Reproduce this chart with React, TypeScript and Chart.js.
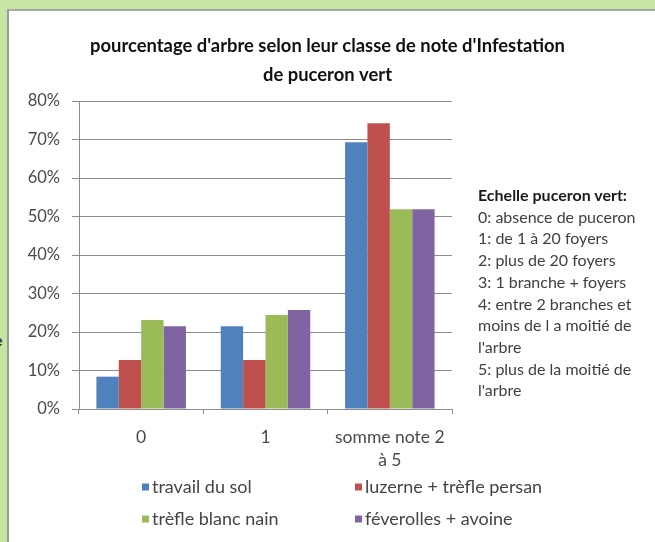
import React, { useEffect, useRef } from "react";
import { Chart, registerables } from "chart.js";

Chart.register(...registerables);

// ---- data ----
const categories: (string | string[])[] = ["0", "1", ["somme note 2", "à 5"]];
const seriesNames = [
  "travail du sol",
  "luzerne + trèfle persan",
  "trèfle blanc nain",
  "féverolles + avoine",
];
const travailDuSol = [8.4, 21.5, 69.3];
const luzerneTrefle = [12.7, 12.7, 74.2];
const trefleBlanc = [23.1, 24.4, 51.9];
const feverolles = [21.5, 25.7, 51.9];
const seriesColors = ["#4F81BD", "#C0504D", "#9BBB59", "#8064A2"];
const yMax = 80;
const yStep = 10;
const titleLines = [
  "pourcentage d'arbre selon leur classe de note d'Infestation",
  "de puceron vert",
];
const noteTitle = "Echelle puceron vert:";
const noteLines = [
  "0: absence de puceron",
  "1: de 1 à 20 foyers",
  "2: plus de 20 foyers",
  "3: 1 branche + foyers",
  "4: entre 2 branches et",
  "moins de l a moitié de",
  "l'arbre",
  "5: plus de la moitié de",
  "l'arbre",
];

const FONT = "Lato, 'Open Sans', sans-serif";
const GRID = "#8c8c8c";

const gridLegend = {
  id: "gridLegend",
  afterDraw(chart: any) {
    const ctx = chart.ctx;
    const { left } = chart.chartArea;
    const colX = [left + 63, left + 276];
    const rowY = [487, 519];
    ctx.save();
    ctx.font = `18px ${FONT}`;
    ctx.textBaseline = "middle";
    ctx.textAlign = "left";
    chart.data.datasets.forEach((ds: any, i: number) => {
      const x = colX[i % 2];
      const y = rowY[Math.floor(i / 2)];
      ctx.fillStyle = ds.backgroundColor;
      ctx.fillRect(x, y - 3.5, 7, 7);
      ctx.fillStyle = "#454545";
      ctx.fillText(ds.label, x + 10, y);
    });
    ctx.restore();
  },
};

export default function App() {
  const ref = useRef<HTMLCanvasElement | null>(null);

  useEffect(() => {
    if (!ref.current) return;
    const seriesData = [travailDuSol, luzerneTrefle, trefleBlanc, feverolles];
    const chart = new Chart(ref.current, {
      type: "bar",
      data: {
        labels: categories,
        datasets: seriesNames.map((name, i) => ({
          label: name,
          data: seriesData[i],
          backgroundColor: seriesColors[i],
          borderWidth: 0,
          categoryPercentage: 0.72,
          barPercentage: 1,
        })),
      },
      options: {
        responsive: false,
        animation: false,
        layout: { padding: 0 },
        plugins: {
          legend: { display: false },
          tooltip: { enabled: false },
          title: {
            display: true,
            text: titleLines,
            color: "#111111",
            font: { family: FONT, size: 18.4, weight: "bold", lineHeight: 29 / 18.4 },
            padding: { top: 31.5, bottom: 11.5 },
          },
        },
        scales: {
          x: {
            grid: {
              display: true,
              drawOnChartArea: false,
              drawTicks: true,
              tickLength: 5,
              color: GRID,
            },
            border: { display: true, color: GRID },
            ticks: {
              color: "#4a4a4a",
              font: { family: FONT, size: 17.5, lineHeight: 23 / 17.5 },
              padding: 11.5,
              maxRotation: 0,
              autoSkip: false,
            },
            afterFit: (s: any) => {
              s.height = 133;
            },
          },
          y: {
            min: 0,
            max: yMax,
            ticks: {
              stepSize: yStep,
              color: "#4a4a4a",
              font: { family: FONT, size: 16.5 },
              padding: 12,
              callback: (v: any) => `${v}%`,
            },
            grid: { color: GRID, tickLength: 7, drawTicks: true },
            border: { display: true, color: GRID },
            afterFit: (s: any) => {
              s.width = 79;
            },
          },
          y2: {
            position: "right",
            display: true,
            grid: { display: false, drawTicks: false },
            border: { display: false },
            ticks: { display: false },
            afterFit: (s: any) => {
              s.width = 203;
            },
          },
        },
      },
      plugins: [gridLegend],
    } as any);
    return () => chart.destroy();
  }, []);

  return (
    <div
      style={{
        position: "fixed",
        left: 0,
        top: 0,
        width: 655,
        height: 542,
        background: "#c6e4a2",
        overflow: "hidden",
        fontFamily: FONT,
      }}
    >
      <div
        style={{
          position: "absolute",
          left: 7,
          top: 9,
          right: 0,
          bottom: 0,
          background: "#ffffff",
          borderLeft: "2px solid #9a9a9a",
          borderTop: "2px solid #a8a8a8",
        }}
      />
      <div
        style={{
          position: "absolute",
          left: -6,
          top: 330,
          fontSize: 16,
          color: "#333",
          fontWeight: "bold",
        }}
      >
        e
      </div>
      <canvas
        ref={ref}
        width={655}
        height={542}
        style={{ position: "absolute", left: 0, top: 0, width: 655, height: 542 }}
      />
      <div
        style={{
          position: "absolute",
          left: 478,
          top: 184,
          fontSize: 16,
          lineHeight: "21.7px",
          color: "#404040",
          whiteSpace: "nowrap",
        }}
      >
        <div style={{ fontWeight: "bold", color: "#1a1a1a" }}>{noteTitle}</div>
        {noteLines.map((l, i) => (
          <div key={i}>{l}</div>
        ))}
      </div>
    </div>
  );
}
